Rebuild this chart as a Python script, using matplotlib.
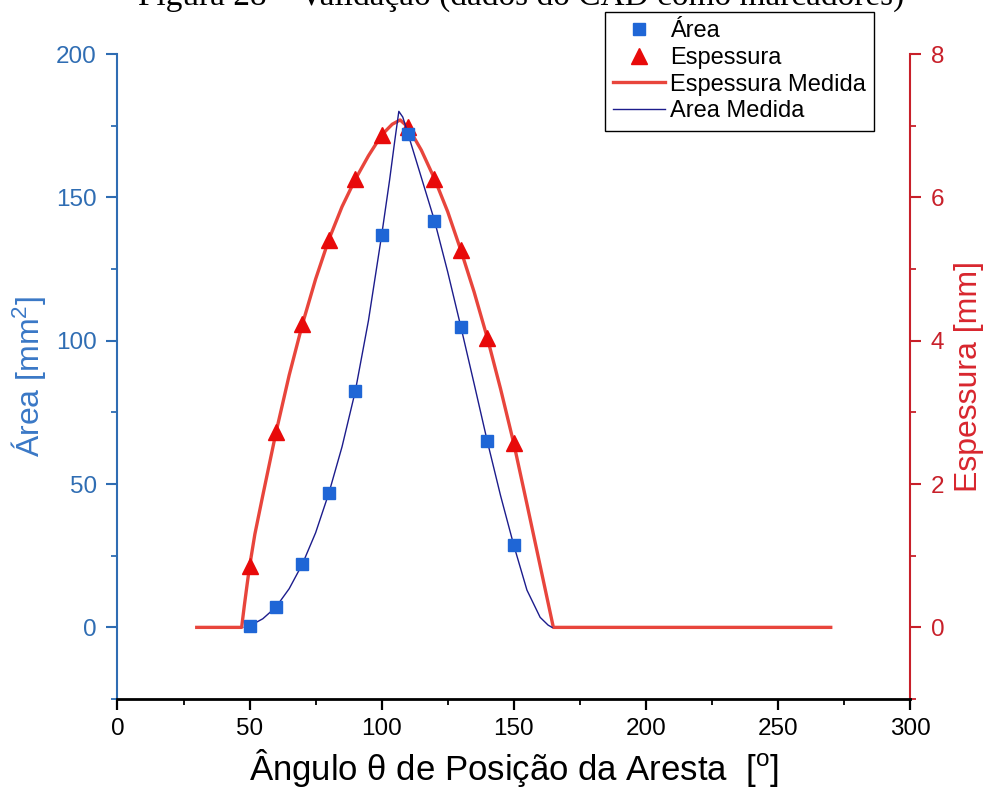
import matplotlib
matplotlib.use("Agg")
import matplotlib.pyplot as plt
from matplotlib.ticker import MultipleLocator

plt.rcParams['font.family'] = ['Liberation Sans', 'DejaVu Sans']
plt.rcParams['mathtext.fontset'] = 'custom'
plt.rcParams['mathtext.rm'] = 'Liberation Sans'
plt.rcParams['mathtext.it'] = 'Liberation Sans:italic'

# CAD markers
ang_cad = [50, 60, 70, 80, 90, 100, 110, 120, 130, 140, 150]
area_cad = [0.6, 7.1, 22.1, 46.8, 82.3, 136.8, 172.1, 141.9, 104.8, 64.9, 28.7]
esp_cad = [0.85, 2.72, 4.23, 5.41, 6.25, 6.87, 6.98, 6.26, 5.26, 4.04, 2.57]

# measured curves
ang_esp = [30, 47, 48, 49, 50, 52, 55, 60, 65, 70, 75, 80, 85, 90, 95, 100, 104,
           107, 110, 115, 120, 125, 130, 135, 140, 145, 150, 155, 160, 165, 270]
esp_med = [0, 0, 0.3, 0.58, 0.85, 1.3, 1.84, 2.72, 3.52, 4.23, 4.86, 5.41, 5.87,
           6.25, 6.58, 6.87, 7.02, 7.08, 6.98, 6.66, 6.26, 5.8, 5.26, 4.68, 4.04,
           3.33, 2.57, 1.72, 0.86, 0, 0]

ang_area = [48, 50, 55, 60, 65, 70, 75, 80, 85, 90, 95, 100, 103, 105, 106.5,
            108, 110, 115, 120, 125, 130, 135, 140, 145, 150, 155, 160, 163, 164.5]
area_med = [0, 0.5, 3, 7.1, 13.5, 22.1, 33, 46.8, 63, 82.3, 107, 136.8, 156, 170,
            180, 178, 172.1, 157, 141.9, 124, 104.8, 85, 64.9, 46, 28.7, 13, 3.5,
            0.8, 0]

blue_ax = '#2f6db3'
red_ax = '#c8202a'

fig = plt.figure(figsize=(9.89, 7.98), dpi=100)
ax1 = fig.add_axes([0.1188, 0.124, 0.8013, 0.8083])
ax2 = ax1.twinx()
ax1.set_zorder(ax2.get_zorder() + 1)
ax1.patch.set_visible(False)

l_esp, = ax2.plot(ang_esp, esp_med, color='#e8453c', lw=2.4, label='Espessura Medida')
m_esp, = ax2.plot(ang_cad, esp_cad, ls='none', marker='^', ms=11.5, color='#e80a0a',
                  label='Espessura')
l_area, = ax1.plot(ang_area, area_med, color='#1c1c8c', lw=1.0, label='Area Medida')
m_area, = ax1.plot(ang_cad, area_cad, ls='none', marker='s', ms=8.5, color='#1f66d6',
                   label='Área')

ax1.set_xlim(0, 300)
ax1.set_ylim(-25, 200)
ax2.set_ylim(-1, 8)

ax1.xaxis.set_major_locator(MultipleLocator(50))
ax1.xaxis.set_minor_locator(MultipleLocator(25))
ax1.yaxis.set_major_locator(MultipleLocator(50))
ax1.yaxis.set_minor_locator(MultipleLocator(25))
ax2.yaxis.set_major_locator(MultipleLocator(2))
ax2.yaxis.set_minor_locator(MultipleLocator(1))

for a in (ax1, ax2):
    a.spines['top'].set_visible(False)
ax1.spines['right'].set_visible(False)
ax2.spines['left'].set_visible(False)
ax2.spines['bottom'].set_visible(False)

ax1.spines['bottom'].set_linewidth(2.0)
ax1.spines['bottom'].set_color('black')
ax1.spines['left'].set_linewidth(1.5)
ax1.spines['left'].set_color(blue_ax)
ax2.spines['right'].set_linewidth(1.5)
ax2.spines['right'].set_color(red_ax)

ax1.tick_params(axis='x', which='major', direction='out', length=8, width=1.6,
                color='black', labelsize=17.5, pad=6)
ax1.tick_params(axis='x', which='minor', direction='out', length=4, width=1.3,
                color='black')
ax1.tick_params(axis='y', which='major', direction='out', length=8, width=1.5,
                color=blue_ax, labelcolor=blue_ax, labelsize=17.5, pad=7)
ax1.tick_params(axis='y', which='minor', direction='out', length=4, width=1.3,
                color=blue_ax)
ax2.tick_params(axis='y', which='major', direction='out', length=8, width=1.5,
                color=red_ax, labelcolor=red_ax, labelsize=17.5, pad=7)
ax2.tick_params(axis='y', which='minor', direction='out', length=4, width=1.3,
                color=red_ax)

ax1.set_xlabel(r'Ângulo θ de Posição da Aresta  [$^{\mathrm{o}}$]', fontsize=25)
ax1.xaxis.set_label_coords(0.5, -0.075)
ax1.set_ylabel(r'Área [mm$^{2}$]', fontsize=23, color='#3a78c6')
ax1.yaxis.set_label_coords(-0.088, 0.5)
ax2.set_ylabel('Espessura [mm]', fontsize=23, color='#d8262e')
ax2.yaxis.set_label_coords(1.055, 0.5)

leg = ax1.legend(handles=[m_area, m_esp, l_esp, l_area], loc='upper right',
                 bbox_to_anchor=(874 / 989, 1 - 12 / 798),
                 bbox_transform=fig.transFigure, fontsize=17, frameon=True,
                 fancybox=False, framealpha=1, edgecolor='black', numpoints=1,
                 handlelength=2.2, handletextpad=0.2, labelspacing=0.2,
                 borderpad=0.35, borderaxespad=0)
leg.get_frame().set_linewidth(1.0)

fig.text(0.527, 1 - 5 / 798, 'Figura 28 – Validação (dados do CAD como marcadores)',
         ha='center', va='baseline', fontsize=24, family='Liberation Serif')

fig.savefig('out.png', dpi=100)
